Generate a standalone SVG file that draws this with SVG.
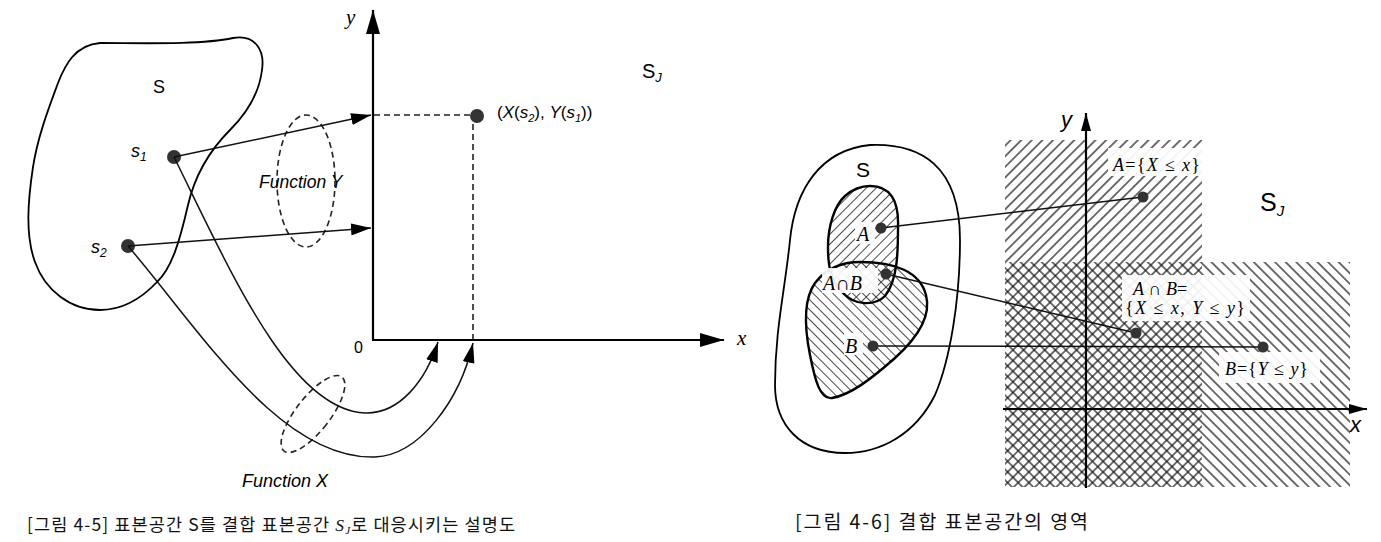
<svg xmlns="http://www.w3.org/2000/svg" width="1381" height="542" viewBox="0 0 1381 542">
<defs>
<style>
.ln{stroke:#111;fill:none;stroke-width:1.5}
.ax{stroke:#000;fill:none;stroke-width:2.2}
.dash{stroke:#222;fill:none;stroke-width:1.6;stroke-dasharray:6 4}
.blob{stroke:#000;fill:none;stroke-width:1.8}
.thick{stroke:#000;fill:none;stroke-width:2.4}
.dot{fill:#333}
.sans{font-family:"Liberation Sans",Arial,sans-serif}
.serif{font-family:"Liberation Serif","Times New Roman",serif}
.kr{font-family:"Noto Sans CJK KR","Liberation Sans",sans-serif;fill:#111}
.it{font-style:italic}
.bg{fill:#fff;opacity:0.92}
</style>
<marker id="ah" markerUnits="userSpaceOnUse" markerWidth="20" markerHeight="12" refX="20" refY="6" orient="auto"><path d="M0,0 L20,6 L0,12 z" fill="#000"/></marker>
<marker id="axh" markerUnits="userSpaceOnUse" markerWidth="24" markerHeight="14" refX="24" refY="7" orient="auto"><path d="M0,0 L24,7 L0,14 z" fill="#000"/></marker>
<marker id="axs" markerUnits="userSpaceOnUse" markerWidth="18" markerHeight="10" refX="18" refY="5" orient="auto"><path d="M0,0 L18,5 L0,10 z" fill="#000"/></marker>
<pattern id="hf" patternUnits="userSpaceOnUse" width="7.5" height="7.5" patternTransform="rotate(45)"><line x1="3.75" y1="0" x2="3.75" y2="7.5" stroke="#111" stroke-width="1.2"/></pattern>
<pattern id="hb" patternUnits="userSpaceOnUse" width="7.5" height="7.5" patternTransform="rotate(-45)"><line x1="3.75" y1="0" x2="3.75" y2="7.5" stroke="#111" stroke-width="1.2"/></pattern>
<pattern id="sf" patternUnits="userSpaceOnUse" width="7" height="7" patternTransform="rotate(45)"><line x1="3.5" y1="0" x2="3.5" y2="7" stroke="#333" stroke-width="0.9"/></pattern>
<pattern id="sb" patternUnits="userSpaceOnUse" width="7" height="7" patternTransform="rotate(-45)"><line x1="3.5" y1="0" x2="3.5" y2="7" stroke="#333" stroke-width="0.9"/></pattern>
</defs>
<rect width="1381" height="542" fill="#fff"/>

<!-- ===== Figure 4-5 ===== -->
<g id="fig45">
<g id="sampleS">
<path class="blob" d="M100 43 C140 43,200 45,233 38 C255 34,265 50,262 70 C259 95,245 115,230 130 C210 150,195 175,188 205 C180 240,172 268,157 282 C140 300,120 310,100 310 C70 310,45 290,35 262 C25 235,28 200,33 167 C38 135,50 105,58 83 C65 65,75 45,100 43 Z"/>
<text class="sans" x="153" y="93" font-size="18">S</text>
</g>
<g id="s1">
<circle class="dot" cx="174" cy="157" r="7"/>
<text class="sans it" x="131" y="157" font-size="18">s<tspan font-size="12" dy="4">1</tspan></text>
</g>
<g id="s2">
<circle class="dot" cx="128" cy="246" r="7"/>
<text class="sans it" x="91" y="253" font-size="18">s<tspan font-size="12" dy="4">2</tspan></text>
</g>
<g id="axesL">
<line class="ax" x1="373" y1="340" x2="373" y2="10" marker-end="url(#axh)"/>
<line class="ax" x1="372" y1="340" x2="724" y2="340" marker-end="url(#axh)"/>
<text class="serif it" x="346" y="24" font-size="21">y</text>
<text class="serif it" x="737" y="345" font-size="21">x</text>
<text class="sans" x="354" y="353" font-size="16">0</text>
<text class="sans" x="642" y="78" font-size="20">S<tspan class="it" font-size="13" dy="4">J</tspan></text>
</g>
<g id="point">
<line class="dash" x1="374" y1="115" x2="470" y2="115"/>
<line class="dash" x1="473" y1="124" x2="473" y2="339"/>
<circle class="dot" cx="477" cy="116" r="7"/>
<text class="sans" x="497" y="118" font-size="17">(<tspan class="it">X</tspan>(<tspan class="it">s</tspan><tspan class="it" font-size="11" dy="4">2</tspan><tspan dy="-4">),  </tspan><tspan class="it">Y</tspan>(<tspan class="it">s</tspan><tspan class="it" font-size="11" dy="4">1</tspan><tspan dy="-4">))</tspan></text>
</g>
<g id="funcY">
<ellipse class="dash" cx="306" cy="181" rx="29" ry="66"/>
<text class="sans it" x="259" y="188" font-size="17.5">Function Y</text>
</g>
<g id="funcX">
<ellipse class="dash" cx="313" cy="414" rx="17" ry="47" transform="rotate(38 313 414)"/>
<text class="sans it" x="242" y="487" font-size="18">Function X</text>
</g>
<g id="connectorsL">
<line class="ln" x1="174" y1="157" x2="371" y2="115" marker-end="url(#ah)"/>
<line class="ln" x1="128" y1="246" x2="371" y2="228" marker-end="url(#ah)"/>
<path class="ln" d="M174 157 C230 270,290 410,365 413 C400 414,426 380,438 342" marker-end="url(#ah)"/>
<path class="ln" d="M128 246 C200 330,280 460,375 457 C420 455,460 400,473 343" marker-end="url(#ah)"/>
</g>
<text class="kr" x="27" y="531" font-size="17.5" textLength="488" lengthAdjust="spacing">[그림 4-5] 표본공간 S를 결합 표본공간 <tspan class="serif it">S</tspan><tspan class="serif it" font-size="11" dy="3">J</tspan><tspan dy="-3">로 대응시키는 설명도</tspan></text>
</g>

<!-- ===== Figure 4-6 ===== -->
<g id="fig46">
<g id="regions">
<rect x="1005" y="140" width="197" height="347" fill="url(#hf)"/>
<rect x="1005" y="262" width="345" height="225" fill="url(#hb)"/>
</g>
<g id="outerS">
<path class="blob" d="M870 145 C920 143,960 165,960 240 C960 300,950 360,935 395 C915 435,880 453,845 453 C800 453,775 425,775 385 C775 330,785 290,790 240 C795 190,820 150,870 145 Z"/>
<text class="sans" x="856" y="177" font-size="21">S</text>
</g>
<g id="setB">
<path d="M860 262 C895 262,920 272,926 295 C932 318,915 340,895 358 C870 380,850 395,832 398 C820 400,815 380,810 355 C805 330,803 300,815 283 C825 270,840 262,860 262 Z" fill="url(#sb)"/>
</g>
<g id="setA">
<path d="M870 186 C890 186,899 200,898 227 C898 250,898 280,885 296 C875 306,855 306,843 293 C830 280,828 265,828 247 C828 225,835 205,845 196 C853 189,862 186,870 186 Z" fill="url(#sf)"/>
</g>
<path class="thick" d="M860 262 C895 262,920 272,926 295 C932 318,915 340,895 358 C870 380,850 395,832 398 C820 400,815 380,810 355 C805 330,803 300,815 283 C825 270,840 262,860 262 Z"/>
<path class="thick" d="M870 186 C890 186,899 200,898 227 C898 250,898 280,885 296 C875 306,855 306,843 293 C830 280,828 265,828 247 C828 225,835 205,845 196 C853 189,862 186,870 186 Z"/>
<g id="labelsBlobs">
<rect class="bg" x="855" y="222" width="20" height="22"/>
<rect class="bg" x="822" y="268" width="56" height="25"/>
<rect class="bg" x="844" y="333" width="19" height="22"/>
<text class="serif it" x="857" y="241" font-size="20">A</text>
<text class="serif it" x="823" y="290" font-size="20">A<tspan font-style="normal">∩</tspan>B</text>
<text class="serif it" x="845" y="353" font-size="20">B</text>
</g>
<g id="labelsRegions">
<rect class="bg" x="1108" y="148" width="103" height="28"/>
<rect class="bg" x="1122" y="275" width="128" height="46"/>
<rect class="bg" x="1219" y="352" width="101" height="31"/>
<text class="serif" x="1113" y="171" font-size="18" textLength="87" lengthAdjust="spacing"><tspan class="it">A</tspan>={<tspan class="it">X</tspan> ≤ <tspan class="it">x</tspan>}</text>
<text class="serif" x="1133" y="295" font-size="18"><tspan class="it">A</tspan> ∩ <tspan class="it">B</tspan>=</text>
<text class="serif" x="1125" y="314" font-size="18" textLength="120" lengthAdjust="spacing">{<tspan class="it">X</tspan> ≤ <tspan class="it">x</tspan>, <tspan class="it">Y</tspan> ≤ <tspan class="it">y</tspan>}</text>
<text class="serif" x="1225" y="375" font-size="18" textLength="83" lengthAdjust="spacing"><tspan class="it">B</tspan>={<tspan class="it">Y</tspan> ≤ <tspan class="it">y</tspan>}</text>
</g>
<g id="axesR">
<line class="ax" x1="1086" y1="488" x2="1086" y2="113" marker-end="url(#axs)"/>
<line class="ax" x1="1003" y1="409" x2="1367" y2="409" marker-end="url(#axs)"/>
<text class="sans it" x="1061" y="127" font-size="22">y</text>
<text class="sans it" x="1350" y="432" font-size="22">x</text>
<text class="sans" x="1260" y="211" font-size="25">S<tspan class="it" font-size="15" dy="5">J</tspan></text>
</g>
<g id="connectorsR">
<line class="ln" x1="881" y1="228" x2="1143" y2="197"/>
<line class="ln" x1="886" y1="274" x2="1136" y2="333"/>
<line class="ln" x1="873" y1="346" x2="1263" y2="347"/>
</g>
<g id="dotsR">
<circle class="dot" cx="881" cy="228" r="5.5"/>
<circle class="dot" cx="886" cy="274" r="5.5"/>
<circle class="dot" cx="873" cy="346" r="5.5"/>
<circle class="dot" cx="1143" cy="197" r="5.5"/>
<circle class="dot" cx="1136" cy="333" r="5.5"/>
<circle class="dot" cx="1263" cy="347" r="5.5"/>
</g>
<text class="kr" x="795" y="529" font-size="19.5" textLength="293" lengthAdjust="spacing">[그림 4-6] 결합 표본공간의 영역</text>
</g>
</svg>
